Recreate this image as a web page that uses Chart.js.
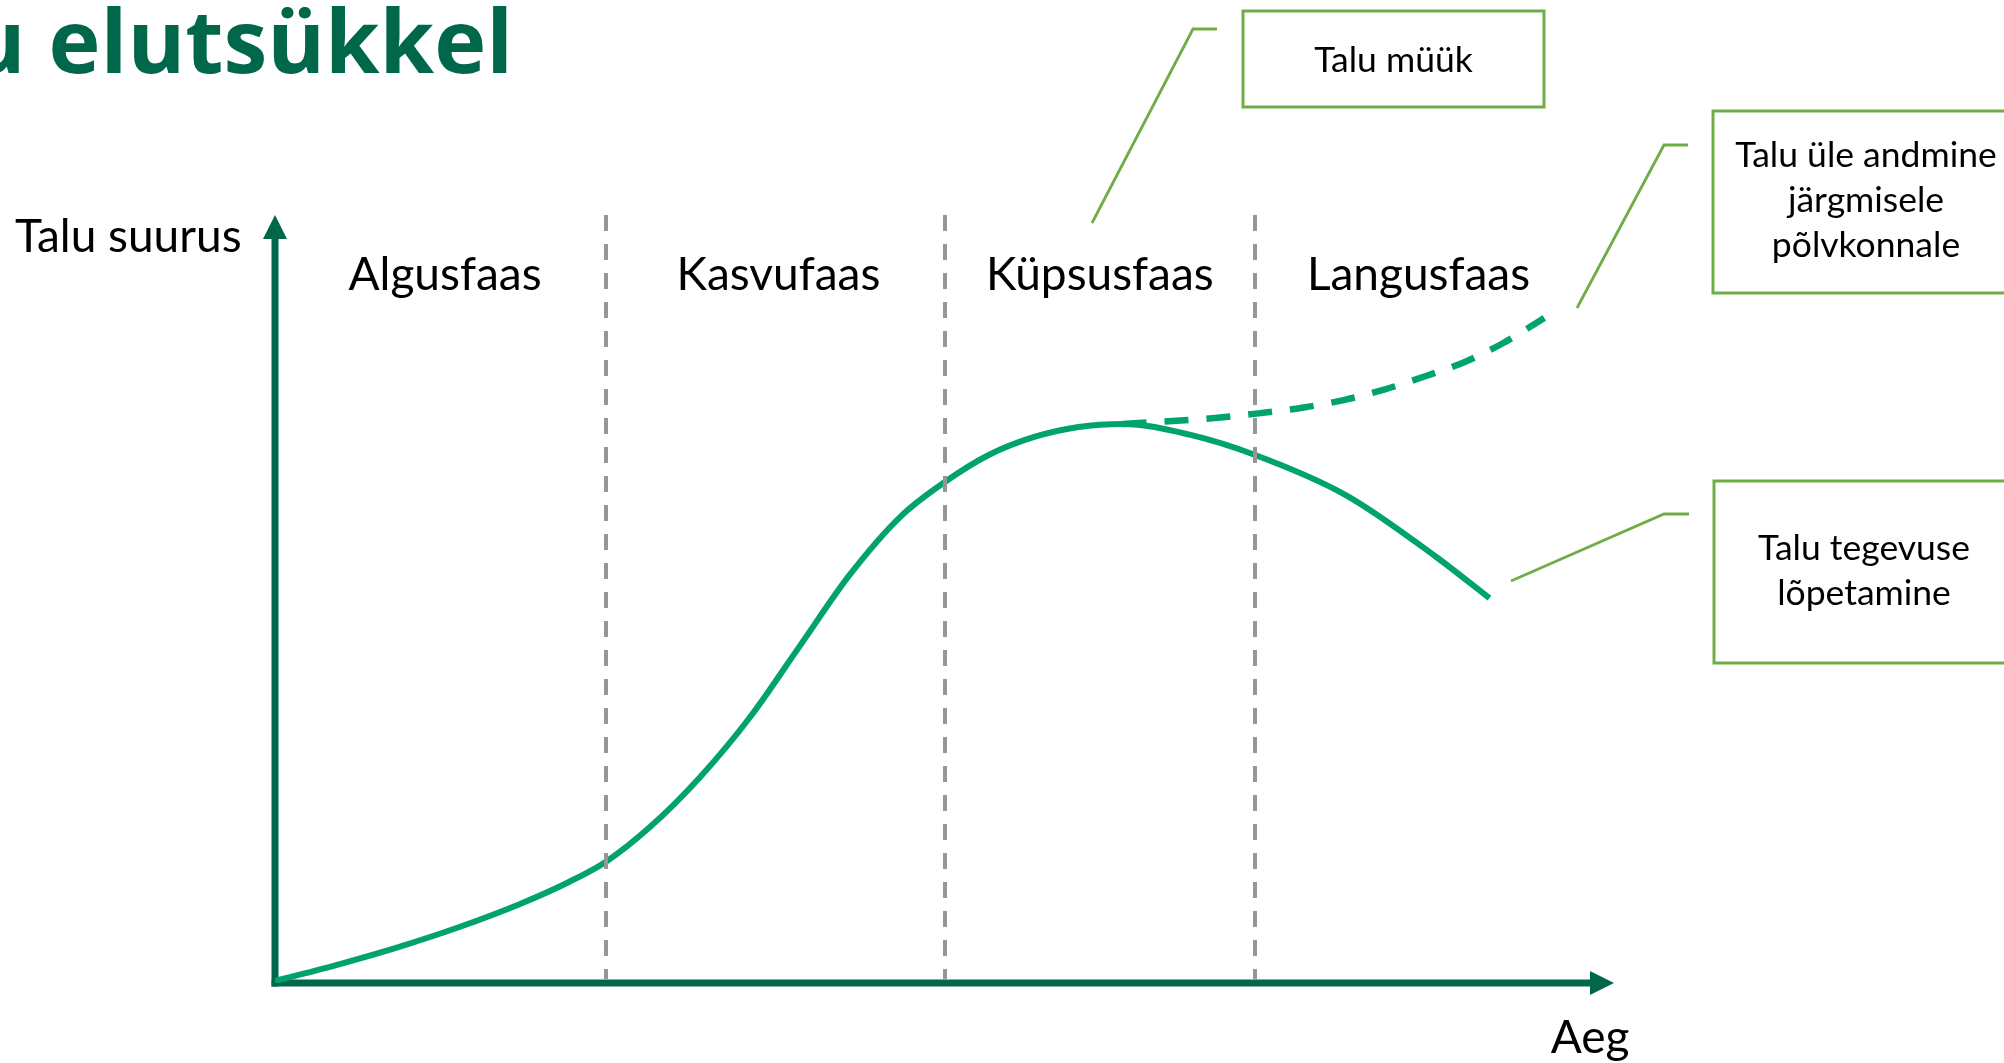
<!DOCTYPE html>
<html><head><meta charset="utf-8">
<script src="https://cdn.jsdelivr.net/npm/chart.js@4/dist/chart.umd.min.js"></script>
<style>html,body{margin:0;padding:0;background:#fff;overflow:hidden}canvas{display:block}</style>
</head><body><canvas id="c" width="2004" height="1063"></canvas>
<script>
// ---- data ----
const titleText = "Talu elutsükkel";
const yAxisTitle = "Talu suurus";
const xAxisTitle = "Aeg";
const phaseNames = ["Algusfaas", "Kasvufaas", "Küpsusfaas", "Langusfaas"];
const phaseCenters = [12.7, 37.6, 61.6, 85.4];
const phaseBoundaries = [24.7, 50.0, 73.2];
const mainTime = [0, 4.85, 9.34, 13.82, 18.3, 22.03, 24.72, 28.0, 31.74, 35.47, 39.2, 42.9, 46.7, 50.0, 53.3, 56.7, 60.0, 63.3, 68.3, 73.2, 80.0, 86.7, 90.7];
const mainSize = [0.26, 2.47, 4.74, 7.32, 10.29, 13.22, 15.79, 20.3, 26.8, 34.6, 43.9, 53.1, 60.7, 65.2, 68.75, 71.1, 72.4, 72.8, 71.4, 68.75, 63.5, 55.5, 50.1];
const branchTime = [63.3, 70.4, 73.6, 76.7, 79.8, 82.9, 85.9, 88.9, 91.7, 94.8];
const branchSize = [72.8, 73.6, 74.2, 74.9, 75.9, 77.3, 79.0, 80.9, 83.3, 86.6];
const calloutTexts = [["Talu müük"], ["Talu üle andmine", "järgmisele", "põlvkonnale"], ["Talu tegevuse", "lõpetamine"]];

// ---- styles ----
const AXIS = "#00674A";
const CURVE = "#00A36C";
const CALL = "#70AD47";
const GRID = "#969696";
const FONT = "Lato, 'Liberation Sans', sans-serif";

const layoutCallouts = [
  {box:[1243, 11, 301, 96], lead:[[1092,223],[1193,29],[1217,29]], cx:1393.5, base:[72]},
  {box:[1713, 111, 310, 182], lead:[[1577,308],[1664,145],[1688,145]], cx:1866, base:[167,212,257]},
  {box:[1714, 481, 310, 182], lead:[[1511,581],[1664,514],[1689,514]], cx:1864, base:[560,605]}
];

const toPts = (xs, ys) => xs.map((x, i) => ({x, y: ys[i]}));

const axesPlugin = {
  id: 'axes',
  beforeDatasetsDraw(chart) {
    const {ctx} = chart;
    const xs = chart.scales.x, ys = chart.scales.y;
    const x0 = xs.getPixelForValue(0), y0 = ys.getPixelForValue(0);
    const xEnd = xs.getPixelForValue(100), yEnd = ys.getPixelForValue(100);
    ctx.save();
    ctx.fillStyle = AXIS; ctx.strokeStyle = AXIS; ctx.lineWidth = 7; ctx.lineCap = 'butt';
    ctx.beginPath(); ctx.moveTo(x0, y0 + 3.5); ctx.lineTo(x0, yEnd + 22); ctx.stroke();
    ctx.beginPath(); ctx.moveTo(x0 - 3.5, y0); ctx.lineTo(xEnd - 22, y0); ctx.stroke();
    ctx.beginPath(); ctx.moveTo(x0, yEnd); ctx.lineTo(x0 + 12, yEnd + 24); ctx.lineTo(x0 - 12, yEnd + 24); ctx.closePath(); ctx.fill();
    ctx.beginPath(); ctx.moveTo(xEnd, y0); ctx.lineTo(xEnd - 24, y0 - 12); ctx.lineTo(xEnd - 24, y0 + 12); ctx.closePath(); ctx.fill();
    ctx.restore();
  },
  afterDatasetsDraw(chart) {
    const {ctx} = chart;
    const xs = chart.scales.x, ys = chart.scales.y;
    const y0 = ys.getPixelForValue(0), yTop = ys.getPixelForValue(100);
    ctx.save();
    ctx.strokeStyle = GRID; ctx.lineWidth = 4; ctx.setLineDash([16, 13]);
    phaseBoundaries.forEach(b => {
      const px = Math.round(xs.getPixelForValue(b));
      ctx.beginPath(); ctx.moveTo(px, yTop); ctx.lineTo(px, y0 - 4); ctx.stroke();
    });
    ctx.setLineDash([]);
    ctx.fillStyle = "#000"; ctx.font = "46px " + FONT; ctx.textAlign = 'center'; ctx.textBaseline = 'alphabetic';
    phaseNames.forEach((n, i) => ctx.fillText(n, xs.getPixelForValue(phaseCenters[i]), 290));
    ctx.textAlign = 'left';
    ctx.fillText(yAxisTitle, 15, 252);
    ctx.textAlign = 'center';
    ctx.fillText(xAxisTitle, 1590, 1053);
    ctx.fillStyle = AXIS; ctx.font = "bold 88px 'Open Sans', sans-serif"; ctx.textAlign = 'right';
    ctx.fillText(titleText, 513, 73);
    layoutCallouts.forEach((c, i) => {
      ctx.strokeStyle = CALL; ctx.lineWidth = 2.8;
      ctx.beginPath();
      c.lead.forEach((p, j) => j ? ctx.lineTo(p[0], p[1]) : ctx.moveTo(p[0], p[1]));
      ctx.stroke();
      ctx.lineWidth = 3;
      ctx.strokeRect(c.box[0], c.box[1], c.box[2], c.box[3]);
      ctx.fillStyle = "#000"; ctx.font = "35.5px " + FONT; ctx.textAlign = 'center';
      calloutTexts[i].forEach((t, k) => ctx.fillText(t, c.cx, c.base[k]));
    });
    ctx.restore();
  }
};

function draw() {
  new Chart(document.getElementById('c'), {
    type: 'scatter',
    data: {
      datasets: [
        {label: 'main', data: toPts(mainTime, mainSize), showLine: true, borderColor: CURVE, borderWidth: 6,
         pointRadius: 0, cubicInterpolationMode: 'monotone', fill: false},
        {label: 'branch', data: toPts(branchTime, branchSize), showLine: true, borderColor: CURVE, borderWidth: 6.5,
         borderDash: [24, 18], pointRadius: 0, cubicInterpolationMode: 'monotone', fill: false}
      ]
    },
    options: {
      responsive: false, animation: false,
      layout: {padding: {left: 275, right: 390, top: 215, bottom: 80}},
      plugins: {legend: {display: false}, tooltip: {enabled: false}, title: {display: false}},
      scales: {
        x: {type: 'linear', min: 0, max: 100, display: false},
        y: {type: 'linear', min: 0, max: 100, display: false}
      }
    },
    plugins: [axesPlugin]
  });
}
Promise.all([
  document.fonts.load("46px Lato"), document.fonts.load("bold 88px 'Open Sans'")
]).then(draw, draw);
</script>
</body></html>
